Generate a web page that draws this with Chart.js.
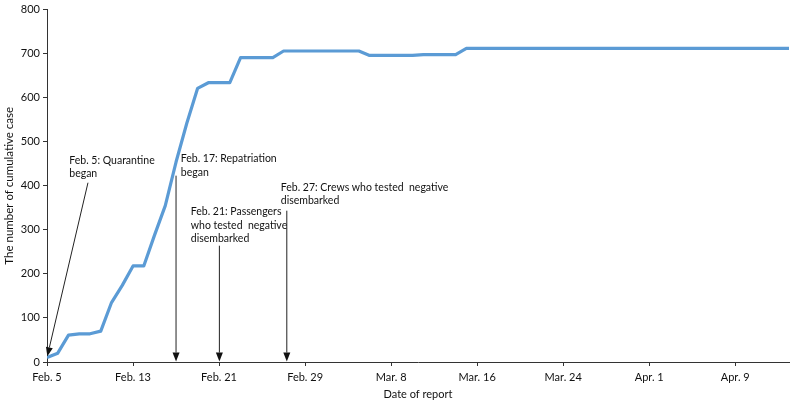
<!DOCTYPE html>
<html><head><meta charset="utf-8">
<script src="https://cdn.jsdelivr.net/npm/chart.js@4/dist/chart.umd.min.js"></script>
<style>html,body{margin:0;padding:0;background:#fff}#wrap{width:794px;height:403px;position:relative}</style>
</head><body><div id="wrap"><canvas id="c" width="794" height="403"></canvas></div>
<script>
const dates = [
  'Feb. 5','Feb. 6','Feb. 7','Feb. 8','Feb. 9','Feb. 10','Feb. 11','Feb. 12','Feb. 13','Feb. 14',
  'Feb. 15','Feb. 16','Feb. 17','Feb. 18','Feb. 19','Feb. 20','Feb. 21','Feb. 22','Feb. 23','Feb. 24',
  'Feb. 25','Feb. 26','Feb. 27','Feb. 28','Feb. 29','Mar. 1','Mar. 2','Mar. 3','Mar. 4','Mar. 5',
  'Mar. 6','Mar. 7','Mar. 8','Mar. 9','Mar. 10','Mar. 11','Mar. 12','Mar. 13','Mar. 14','Mar. 15',
  'Mar. 16','Mar. 17','Mar. 18','Mar. 19','Mar. 20','Mar. 21','Mar. 22','Mar. 23','Mar. 24','Mar. 25',
  'Mar. 26','Mar. 27','Mar. 28','Mar. 29','Mar. 30','Mar. 31','Apr. 1','Apr. 2','Apr. 3','Apr. 4',
  'Apr. 5','Apr. 6','Apr. 7','Apr. 8','Apr. 9','Apr. 10','Apr. 11','Apr. 12','Apr. 13','Apr. 14'
];
const cases = [
  10, 20, 61, 64, 64, 70, 135, 174, 218, 218,
  288, 355, 454, 542, 621, 634, 634, 634, 691, 691,
  691, 691, 706, 706, 706, 706, 706, 706, 706, 706,
  696, 696, 696, 696, 696, 698, 698, 698, 698, 712,
  712, 712, 712, 712, 712, 712, 712, 712, 712, 712,
  712, 712, 712, 712, 712, 712, 712, 712, 712, 712,
  712, 712, 712, 712, 712, 712, 712, 712, 712, 712
];
const tickEvery = 8;
const events = [
  { lines: ['Feb. 5: Quarantine', 'began'], from: [3.81, 407], to: [0.03, 13], text: [2.07, 458] },
  { lines: ['Feb. 17: Repatriation', 'began'], from: [12, 423], to: [12, 1], text: [12.44, 461.7] },
  { lines: ['Feb. 21: Passengers', 'who tested  negative', 'disembarked'], from: [16.03, 264], to: [16.03, 1], text: [13.37, 341.2] },
  { lines: ['Feb. 27: Crews who tested  negative', 'disembarked'], from: [22.3, 343.5], to: [22.3, 1], text: [21.74, 396.2] }
];

const FONT = 'Lato';
const ink = '#111';

const annotate = {
  id: 'annotate',
  afterDatasetsDraw(chart) {
    const ctx = chart.ctx, xs = chart.scales.x, ys = chart.scales.y;
    ctx.save();
    ctx.strokeStyle = '#222';
    ctx.fillStyle = ink;
    ctx.lineWidth = 1;
    events.forEach(ev => {
      const x0 = xs.getPixelForValue(ev.from[0]), y0 = ys.getPixelForValue(ev.from[1]);
      const x1 = xs.getPixelForValue(ev.to[0]), y1 = ys.getPixelForValue(ev.to[1]);
      const ang = Math.atan2(y1 - y0, x1 - x0);
      const L = 9, W = 3.5;
      const bx = x1 - L * Math.cos(ang), by = y1 - L * Math.sin(ang);
      ctx.beginPath(); ctx.moveTo(x0, y0); ctx.lineTo(bx, by); ctx.stroke();
      ctx.beginPath();
      ctx.moveTo(x1, y1);
      ctx.lineTo(bx + W * Math.sin(ang), by - W * Math.cos(ang));
      ctx.lineTo(bx - W * Math.sin(ang), by + W * Math.cos(ang));
      ctx.closePath(); ctx.fill();
      const tx = xs.getPixelForValue(ev.text[0]), ty = ys.getPixelForValue(ev.text[1]);
      ctx.font = '10.5px ' + FONT;
      ctx.textAlign = 'left'; ctx.textBaseline = 'middle';
      ev.lines.forEach((t, i) => ctx.fillText(t, tx, ty + i * 13.5));
    });
    ctx.restore();
  }
};

new Chart(document.getElementById('c'), {
  type: 'line',
  data: {
    datasets: [{
      data: cases.map((v, i) => ({ x: i, y: v })),
      borderColor: '#5B9BD5',
      borderWidth: 3.2,
      pointRadius: 0,
      tension: 0,
      fill: false,
      borderJoinStyle: 'round'
    }]
  },
  options: {
    responsive: false,
    animation: false,
    devicePixelRatio: 1,
    layout: { padding: { top: 8, right: 5, left: 0, bottom: 0 } },
    plugins: { legend: { display: false }, tooltip: { enabled: false } },
    scales: {
      x: {
        type: 'linear', min: 0, max: dates.length - 1,
        ticks: {
          stepSize: tickEvery, includeBounds: false, autoSkip: false, maxRotation: 0,
          callback: v => dates[v], color: ink, font: { family: FONT, size: 11 }, padding: 5
        },
        grid: { drawOnChartArea: false, drawTicks: true, tickLength: 4, tickColor: '#333' },
        border: { display: true, color: '#333', width: 1 },
        title: { display: true, text: 'Date of report', color: ink, font: { family: FONT, size: 11 }, padding: { top: 0, bottom: 2 } },
        afterFit: s => { s.height = 41; }
      },
      y: {
        min: 0, max: 800,
        ticks: { stepSize: 100, color: ink, font: { family: FONT, size: 11 }, padding: 3 },
        grid: { drawOnChartArea: false, drawTicks: true, tickLength: 4, tickColor: '#333' },
        border: { display: true, color: '#333', width: 1 },
        title: { display: true, text: 'The number of cumulative case', color: ink, font: { family: FONT, size: 11.5 }, padding: { top: 2, bottom: 0 } },
        afterFit: s => { s.width = 47; }
      }
    }
  },
  plugins: [annotate]
});
</script></body></html>
